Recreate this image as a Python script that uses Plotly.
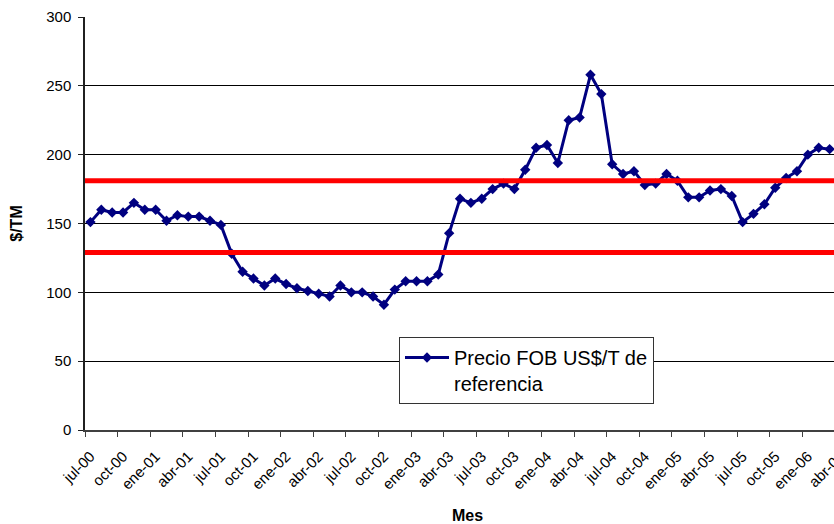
import plotly.graph_objects as go

# ---- data ----
month_names = ["ene", "feb", "mar", "abr", "may", "jun",
               "jul", "ago", "sep", "oct", "nov", "dic"]
precio = [151, 160, 158, 158, 165, 160, 160, 152, 156, 155,
          155, 152, 149, 128, 115, 110, 105, 110, 106, 103,
          101, 99, 97, 105, 100, 100, 97, 91, 102, 108,
          108, 108, 113, 143, 168, 165, 168, 175, 179, 175,
          189, 205, 207, 194, 225, 227, 258, 244, 193, 186,
          188, 178, 179, 186, 181, 169, 169, 174, 175, 170,
          151, 157, 164, 176, 183, 188, 200, 205, 204]
limites = [181, 129]
tick_labels = ["jul-00", "oct-00", "ene-01", "abr-01", "jul-01", "oct-01",
               "ene-02", "abr-02", "jul-02", "oct-02", "ene-03", "abr-03",
               "jul-03", "oct-03", "ene-04", "abr-04", "jul-04", "oct-04",
               "ene-05", "abr-05", "jul-05", "oct-05", "ene-06", "abr-06"]
tick_step = 3
y_ticks = [0, 50, 100, 150, 200, 250, 300]

# category labels for every month (start jul-2000)
meses = []
for i in range(len(precio)):
    k = 6 + i
    meses.append(f"{month_names[k % 12]}-{(2000 + k // 12) % 100:02d}")

x_idx = list(range(len(precio)))
tick_vals = [i * tick_step for i in range(len(tick_labels))]
boundary_vals = [v - 0.5 for v in tick_vals]

FONT = "Liberation Sans, Arial, sans-serif"
W, H = 850, 524
ML, MR, MT, MB = 85, 0, 17, 94
px_per_cat = 10.87
x_range = [-0.5, -0.5 + (W - ML - MR) / px_per_cat]

fig = go.Figure()
fig.add_trace(go.Scatter(
    x=x_idx, y=precio, mode="lines+markers",
    name="Precio FOB US$/T de<br>referencia",
    hovertext=meses, hoverinfo="text+y",
    line=dict(color="#000080", width=3),
    marker=dict(symbol="diamond", size=8, color="#000080"),
))

for lv in limites:
    fig.add_shape(type="line", xref="paper", x0=0, x1=1, yref="y", y0=lv, y1=lv,
                  line=dict(color="#FF0000", width=5), layer="above")

fig.update_layout(
    width=W, height=H,
    margin=dict(l=ML, r=MR, t=MT, b=MB, autoexpand=False),
    paper_bgcolor="white", plot_bgcolor="white",
    font=dict(family=FONT, color="black", size=15),
    showlegend=True,
    legend=dict(
        x=(399 - ML) / (W - ML - MR), y=(430 - 337) / (430 - 17),
        xanchor="left", yanchor="top",
        bgcolor="white", bordercolor="#333333", borderwidth=1,
        font=dict(family=FONT, size=20, color="black"),
        valign="top", itemwidth=44,
    ),
    xaxis=dict(
        range=x_range, tickmode="array", tickvals=tick_vals, ticktext=tick_labels,
        tickangle=-45, ticks="", showgrid=False, zeroline=False,
        showline=True, linecolor="#404040", linewidth=1.5,
        tickfont=dict(family=FONT, size=15, color="black"),
        ticklabelstandoff=10,
        minor=dict(tickmode="array", tickvals=boundary_vals, ticks="outside",
                   ticklen=5, tickcolor="#404040", tickwidth=1, showgrid=False),
        title=dict(text="<b>Mes</b>", font=dict(family=FONT, size=16, color="black"),
                   standoff=22),
        automargin=False,
    ),
    yaxis=dict(
        range=[0, 300], tickmode="array", tickvals=y_ticks,
        ticks="outside", ticklen=5, tickcolor="#202020",
        showgrid=True, gridcolor="#000000", gridwidth=1, zeroline=False,
        showline=True, linecolor="#202020", linewidth=1.5,
        tickfont=dict(family=FONT, size=15, color="black"),
        ticklabelstandoff=4,
        title=dict(text="<b>$/TM</b>", font=dict(family=FONT, size=16, color="black"),
                   standoff=20),
        automargin=False,
    ),
)

fig.write_html(
    "out.html",
    config={"displayModeBar": False},
    post_script="document.documentElement.style.overflow='hidden';"
                "document.body.style.overflow='hidden';"
                "document.body.style.margin='0';",
)
